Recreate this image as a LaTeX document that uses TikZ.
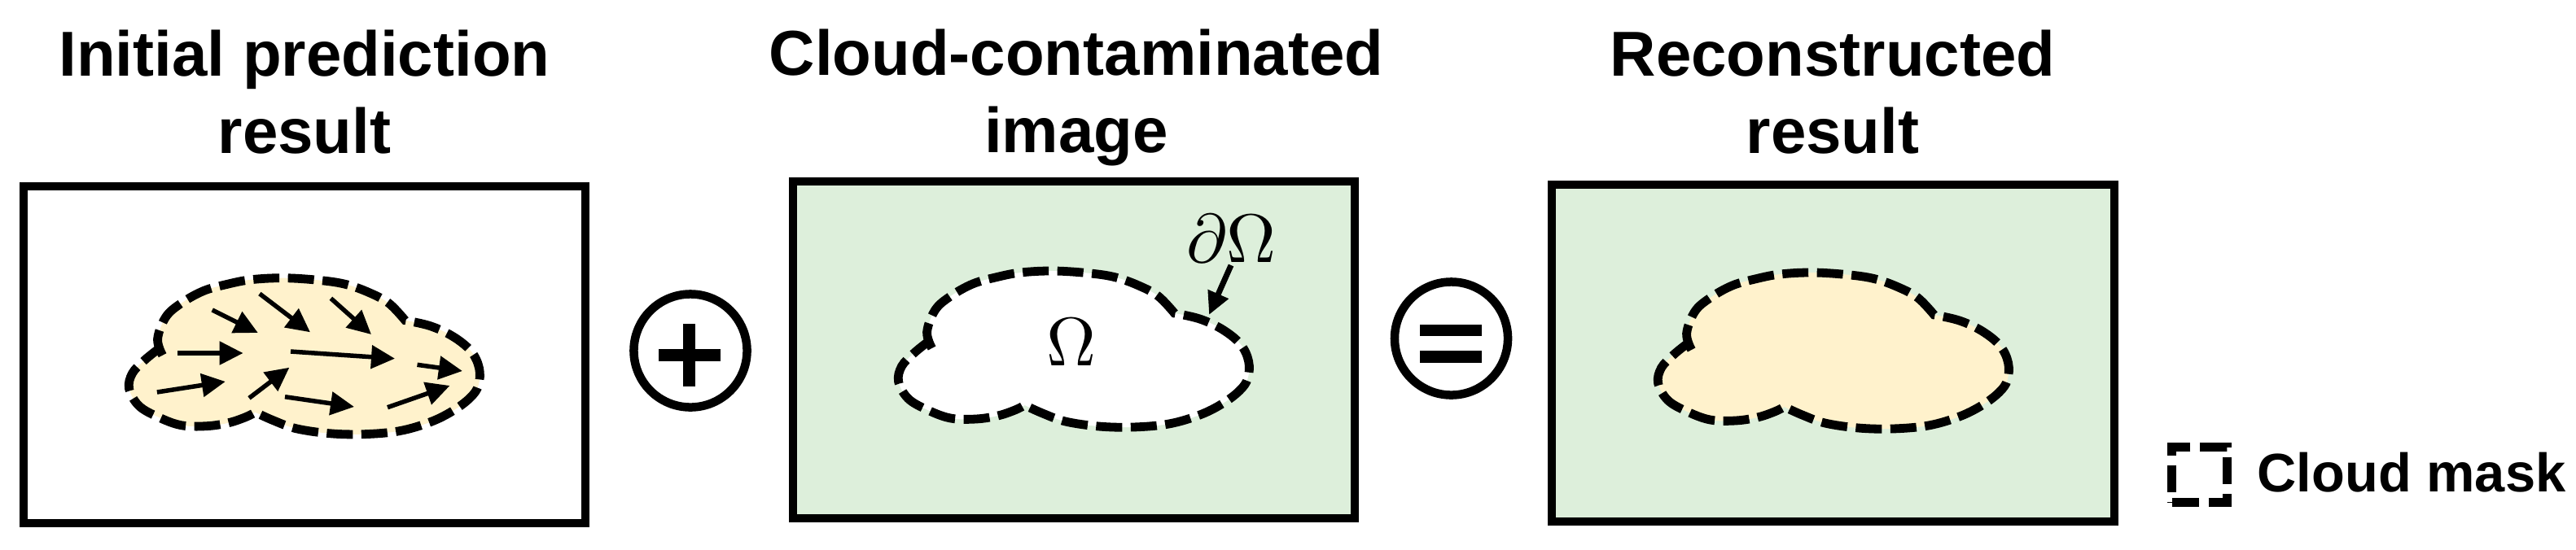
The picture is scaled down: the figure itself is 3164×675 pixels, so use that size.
\documentclass[tikz,border=0pt]{standalone}
\usepackage{fontspec}
\usepackage{fix-cm}
\setmainfont{Liberation Sans}
\usetikzlibrary{arrows.meta}

\definecolor{maskcream}{HTML}{FFF2CC}
\definecolor{scenegreen}{HTML}{DDEFDB}

\tikzset{
    panelbox/.style={rectangle, draw, line width=0.1cm, minimum width=6.9cm, minimum height=4.14cm, inner sep=0pt},
    titletext/.style={align=center, inner sep=0pt, font=\fontsize{22.2}{27}\selectfont\bfseries},
    opcircle/.style={circle, draw, line width=0.105cm, minimum size=1.39cm, inner sep=0pt},
    opbar/.style={rectangle, fill=black, inner sep=0pt},
    maskline/.style={draw, line width=0.108cm, dash pattern=on 0.32cm off 0.105cm},
    flowarrow/.style={line width=0.055cm, -{Triangle[length=0.29cm, width=0.28cm]}},
    domaintext/.style={inner sep=0pt},
    cloudblob/.pic={
        \path[pic actions] plot[smooth, tension=0.6] coordinates {(46,100) (40,80) (50,53) (69,36) (96,21) (124,13) (155,7) (196,5) (241,8) (272,13) (300,23) (324,36) (344,57)}
            -- plot[smooth, tension=0.6] coordinates {(344,57) (375,64) (403,77) (425,95) (435,116) (434,137) (424,152) (403,168) (375,182) (337,193) (293,197) (251,196) (210,190) (182,180) (160,170)}
            -- plot[smooth, tension=0.6] coordinates {(160,170) (148,176) (127,183) (100,187) (69,186) (41,176) (17,162) (5,141) (9,122) (24,106) (40,93)};
    }
}

\begin{document}
\begin{tikzpicture}[x=0.01cm, y=-0.01cm]

    \useasboundingbox (0,0) rectangle (3164,675);

    % the three panels
    \node [panelbox] (prediction)    at (374,436)  {};
    \node [panelbox, fill=scenegreen] (contaminated)  at (1319,430) {};
    \node [panelbox, fill=scenegreen] (reconstructed) at (2251.5,434) {};

    \node [titletext] (predictiontitle)    at (374,113)  {Initial prediction\\result};
    \node [titletext] (contaminatedtitle)  at (1322,120) {Cloud-contaminated\\image};
    \node [titletext] (reconstructedtitle) at (2251,113) {Reconstructed\\result};

    % cloud masks
    \pic [maskline, fill=maskcream] at (153.6,336.7) {cloudblob};
    \pic [maskline, fill=white]     at (1098.6,328)  {cloudblob};
    \pic [maskline, fill=maskcream] at (2031.6,330)  {cloudblob};

    % flow inside the first mask
    \draw [flowarrow] (260.7,381) -- (316.8,409);
    \draw [flowarrow] (318.9,361) -- (381,408.3);
    \draw [flowarrow] (406.4,366.7) -- (456,411);
    \draw [flowarrow] (217.9,434) -- (298.6,434);
    \draw [flowarrow] (357,432) -- (485,440.7);
    \draw [flowarrow] (512.5,448.3) -- (567.9,456);
    \draw [flowarrow] (192.9,482) -- (276.8,469);
    \draw [flowarrow] (306,489.3) -- (355.4,451.7);
    \draw [flowarrow] (350,487.7) -- (435,500);
    \draw [flowarrow] (476,500.7) -- (552.5,474);

    % labels of the second mask
    \node [domaintext] (domain) at (1315.5,421) {\scalebox{2.4}{$\Omega$}};
    \node [domaintext] (boundary) at (1512.5,293.5) {\scalebox{2.4}{$\partial\Omega$}};
    \coordinate (boundarypoint) at (1485,387);
    \draw [line width=0.07cm, -{Triangle[length=0.28cm, width=0.26cm]}] (1512,326) -- (boundarypoint);

    % operators
    \node [opcircle] (plus) at (848,431) {};
    \node [opbar, minimum width=0.76cm, minimum height=0.15cm] (plusbar) at (847,436.5) {};
    \node [opbar, minimum width=0.15cm, minimum height=0.77cm] (pluspost) at (846.5,436.5) {};

    \node [opcircle] (equals) at (1782.5,416) {};
    \node [opbar, minimum width=0.76cm, minimum height=0.145cm] (equalstop) at (1782,406) {};
    \node [opbar, minimum width=0.76cm, minimum height=0.145cm] (equalsbottom) at (1782,438.5) {};

    % legend
    \node [rectangle, line width=0.11cm, draw, dash pattern=on 0.333cm off 0.12cm, minimum size=0.68cm, inner sep=0pt] (legendbox) at (2701.5,583.5) {};
    \node [anchor=base west, inner sep=0pt, font=\fontsize{19}{19}\selectfont\bfseries] (legendtext) at (2772,604) {Cloud mask};

\end{tikzpicture}
\end{document}
